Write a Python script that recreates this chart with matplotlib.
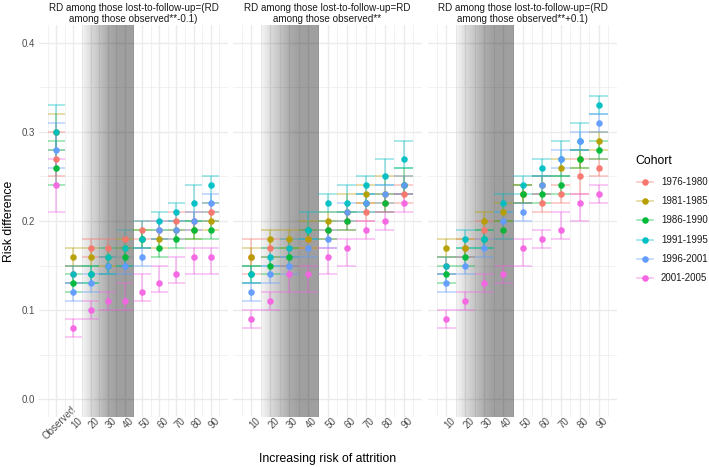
import numpy as np
import matplotlib
matplotlib.use("Agg")
import matplotlib.pyplot as plt
from matplotlib.lines import Line2D

plt.rcParams['font.family'] = ['Liberation Sans', 'DejaVu Sans']

cohorts = ["1976-1980", "1981-1985", "1986-1990", "1991-1995", "1996-2001", "2001-2005"]
colors = ["#F8766D", "#B79F00", "#00BA38", "#00BFC4", "#619CFF", "#F564E3"]

titles = ["RD among those lost-to-follow-up=(RD\namong those observed**-0.1)",
          "RD among those lost-to-follow-up=RD\namong those observed**",
          "RD among those lost-to-follow-up=(RD\namong those observed**+0.1)"]

# panel 1 has the observed estimate at position 0
x_p1 = [0, 10, 20, 30, 40, 50, 60, 70, 80, 90]
labels_p1 = ["Observed", "10", "20", "30", "40", "50", "60", "70", "80", "90"]
x_p23 = [10, 20, 30, 40, 50, 60, 70, 80, 90]
labels_p23 = ["10", "20", "30", "40", "50", "60", "70", "80", "90"]

# rows: cohorts, columns: x positions
est_p1 = [[0.27, 0.14, 0.17, 0.17, 0.18, 0.19, 0.19, 0.20, 0.20, 0.21],
          [0.30, 0.16, 0.16, 0.16, 0.17, 0.18, 0.18, 0.19, 0.19, 0.20],
          [0.26, 0.13, 0.14, 0.15, 0.16, 0.18, 0.17, 0.18, 0.19, 0.19],
          [0.30, 0.14, 0.14, 0.16, 0.17, 0.18, 0.20, 0.21, 0.22, 0.24],
          [0.28, 0.12, 0.13, 0.15, 0.15, 0.16, 0.19, 0.19, 0.20, 0.22],
          [0.24, 0.08, 0.10, 0.11, 0.11, 0.12, 0.13, 0.14, 0.16, 0.16]]
lo_p1 = [[0.25, 0.13, 0.16, 0.16, 0.17, 0.18, 0.18, 0.19, 0.19, 0.20],
         [0.28, 0.15, 0.15, 0.15, 0.16, 0.17, 0.17, 0.18, 0.18, 0.19],
         [0.24, 0.12, 0.13, 0.14, 0.15, 0.17, 0.16, 0.17, 0.18, 0.18],
         [0.28, 0.13, 0.13, 0.14, 0.15, 0.17, 0.19, 0.20, 0.20, 0.22],
         [0.26, 0.11, 0.12, 0.14, 0.14, 0.15, 0.18, 0.18, 0.19, 0.21],
         [0.21, 0.07, 0.09, 0.10, 0.10, 0.11, 0.12, 0.13, 0.14, 0.14]]
hi_p1 = [[0.30, 0.15, 0.18, 0.18, 0.19, 0.20, 0.20, 0.21, 0.21, 0.22],
         [0.32, 0.17, 0.17, 0.17, 0.18, 0.19, 0.19, 0.20, 0.20, 0.21],
         [0.29, 0.14, 0.15, 0.16, 0.17, 0.19, 0.18, 0.19, 0.20, 0.20],
         [0.33, 0.15, 0.15, 0.17, 0.19, 0.20, 0.21, 0.22, 0.24, 0.25],
         [0.31, 0.13, 0.14, 0.16, 0.16, 0.17, 0.20, 0.20, 0.21, 0.23],
         [0.27, 0.09, 0.11, 0.12, 0.13, 0.14, 0.15, 0.16, 0.17, 0.17]]

est_p2 = [[0.16, 0.17, 0.17, 0.18, 0.19, 0.20, 0.21, 0.22, 0.23],
          [0.16, 0.18, 0.18, 0.18, 0.20, 0.21, 0.23, 0.23, 0.24],
          [0.14, 0.15, 0.16, 0.19, 0.19, 0.20, 0.22, 0.22, 0.24],
          [0.14, 0.16, 0.17, 0.19, 0.22, 0.22, 0.24, 0.25, 0.27],
          [0.12, 0.14, 0.15, 0.17, 0.18, 0.21, 0.22, 0.23, 0.24],
          [0.09, 0.11, 0.14, 0.14, 0.16, 0.17, 0.19, 0.20, 0.22]]
lo_p2 = [[0.14, 0.16, 0.16, 0.17, 0.18, 0.19, 0.20, 0.21, 0.22],
         [0.15, 0.17, 0.17, 0.17, 0.19, 0.20, 0.22, 0.22, 0.23],
         [0.13, 0.14, 0.15, 0.18, 0.18, 0.19, 0.21, 0.21, 0.23],
         [0.13, 0.15, 0.16, 0.18, 0.21, 0.21, 0.23, 0.24, 0.26],
         [0.11, 0.13, 0.14, 0.16, 0.17, 0.20, 0.21, 0.22, 0.23],
         [0.08, 0.10, 0.12, 0.12, 0.14, 0.15, 0.18, 0.19, 0.21]]
hi_p2 = [[0.18, 0.18, 0.18, 0.19, 0.20, 0.21, 0.22, 0.23, 0.24],
         [0.17, 0.19, 0.19, 0.20, 0.21, 0.23, 0.24, 0.25, 0.25],
         [0.15, 0.16, 0.17, 0.19, 0.20, 0.21, 0.23, 0.23, 0.26],
         [0.15, 0.17, 0.18, 0.21, 0.23, 0.24, 0.25, 0.27, 0.29],
         [0.13, 0.15, 0.16, 0.18, 0.19, 0.22, 0.23, 0.24, 0.25],
         [0.10, 0.12, 0.15, 0.15, 0.17, 0.18, 0.20, 0.21, 0.23]]

est_p3 = [[0.15, 0.17, 0.19, 0.19, 0.23, 0.22, 0.23, 0.25, 0.26],
          [0.17, 0.17, 0.20, 0.21, 0.23, 0.24, 0.26, 0.27, 0.29],
          [0.14, 0.16, 0.18, 0.19, 0.23, 0.23, 0.24, 0.27, 0.28],
          [0.15, 0.18, 0.18, 0.22, 0.24, 0.26, 0.27, 0.29, 0.33],
          [0.13, 0.15, 0.17, 0.20, 0.21, 0.24, 0.27, 0.29, 0.31],
          [0.09, 0.11, 0.13, 0.14, 0.17, 0.18, 0.19, 0.22, 0.23]]
lo_p3 = [[0.14, 0.16, 0.18, 0.18, 0.22, 0.21, 0.22, 0.23, 0.25],
         [0.16, 0.16, 0.19, 0.20, 0.22, 0.23, 0.25, 0.26, 0.28],
         [0.13, 0.15, 0.17, 0.18, 0.22, 0.22, 0.23, 0.26, 0.27],
         [0.14, 0.17, 0.17, 0.21, 0.23, 0.25, 0.25, 0.28, 0.32],
         [0.12, 0.14, 0.16, 0.18, 0.20, 0.23, 0.26, 0.28, 0.30],
         [0.08, 0.10, 0.12, 0.13, 0.15, 0.17, 0.18, 0.20, 0.22]]
hi_p3 = [[0.16, 0.18, 0.20, 0.20, 0.24, 0.23, 0.24, 0.27, 0.27],
         [0.18, 0.18, 0.21, 0.22, 0.24, 0.25, 0.27, 0.28, 0.30],
         [0.15, 0.17, 0.19, 0.20, 0.24, 0.25, 0.25, 0.28, 0.29],
         [0.16, 0.19, 0.19, 0.23, 0.25, 0.27, 0.29, 0.31, 0.34],
         [0.14, 0.16, 0.18, 0.21, 0.22, 0.25, 0.28, 0.30, 0.32],
         [0.10, 0.12, 0.14, 0.15, 0.18, 0.19, 0.21, 0.23, 0.24]]

W, H = 709, 467
fig = plt.figure(figsize=(W / 100, H / 100), dpi=100)

def fx(px):
    return px / W

def fy(py):
    return 1 - py / H

ylim = (-0.02, 0.42)
panel_top, panel_bot = 25, 417
lefts = [39, 233, 428]
pw = 189

# grey shading that darkens towards 40 (shaded x range 15..45)
gx = np.linspace(15, 45, 300)
alpha_ramp = np.interp(gx, [15, 20, 25, 30, 35, 45], [0.04, 0.14, 0.24, 0.33, 0.38, 0.38])
shade = np.zeros((1, gx.size, 4))
shade[0, :, 3] = alpha_ramp


def draw_panel(ax, x, est, lo, hi, xlim, labels, title, show_y):
    ax.imshow(shade, extent=[15, 45, ylim[0], ylim[1]], aspect='auto',
              interpolation='bilinear', zorder=0.6)
    xs = np.array(x)
    for k in range(len(cohorts)):
        ax.vlines(xs, lo[k], hi[k], color=colors[k], lw=1.1, alpha=0.45, zorder=2)
        ax.hlines(lo[k], xs - 5, xs + 5, color=colors[k], lw=1.1, alpha=0.45, zorder=2)
        ax.hlines(hi[k], xs - 5, xs + 5, color=colors[k], lw=1.1, alpha=0.45, zorder=2)
    for k in range(len(cohorts)):
        ax.plot(xs, est[k], 'o', color=colors[k], ms=4.7, mew=0, alpha=0.95, zorder=3)

    ax.set_xlim(*xlim)
    ax.set_ylim(*ylim)
    ax.set_xticks(x)
    ax.set_xticklabels(labels, rotation=45, ha='center', va='top', rotation_mode='anchor')
    ax.set_xticks(np.arange(x[0] - 5, 100, 10), minor=True)
    ax.set_yticks([0.0, 0.1, 0.2, 0.3, 0.4])
    ax.set_yticks([0.05, 0.15, 0.25, 0.35], minor=True)
    if show_y:
        ax.set_yticklabels(["0.0", "0.1", "0.2", "0.3", "0.4"])
    else:
        ax.set_yticklabels([])
    ax.tick_params(which='both', length=0, labelsize=7, labelcolor='#4D4D4D')
    ax.tick_params(axis='x', pad=2)
    ax.tick_params(axis='y', pad=3)
    ax.grid(which='major', color='#EBEBEB', lw=1.0)
    ax.grid(which='minor', color='#EBEBEB', lw=0.5)
    ax.set_axisbelow(True)
    for s in ax.spines.values():
        s.set_visible(False)
    ax.set_title(title, fontsize=7.1, color='#1A1A1A', pad=2.5, linespacing=1.1)


panels = [(x_p1, est_p1, lo_p1, hi_p1, (-10, 100), labels_p1),
          (x_p23, est_p2, lo_p2, hi_p2, (0.5, 99.5), labels_p23),
          (x_p23, est_p3, lo_p3, hi_p3, (0.5, 99.5), labels_p23)]

for i, (x, est, lo, hi, xl, labs) in enumerate(panels):
    ax = fig.add_axes([fx(lefts[i]), fy(panel_bot), fx(pw), (panel_bot - panel_top) / H])
    draw_panel(ax, x, est, lo, hi, xl, labs, titles[i], i == 0)

fig.text(fx(328), fy(459), "Increasing risk of attrition", fontsize=8.8,
         color='black', ha='center', va='center')
fig.text(fx(9), fy(221), "Risk difference", fontsize=8.8, color='black',
         rotation=90, ha='center', va='center')

# legend
fig.text(fx(635), fy(161), "Cohort", fontsize=8.8, color='black', ha='left', va='center')
for i, (c, lab) in enumerate(zip(cohorts, colors)):
    yy = fy(181.7 + i * 19.3)
    fig.add_artist(Line2D([fx(637), fx(653)], [yy, yy], color=lab, lw=1.1, alpha=0.45,
                          transform=fig.transFigure))
    fig.add_artist(Line2D([fx(645)], [yy], color=lab, marker='o', ms=4.7, mew=0,
                          transform=fig.transFigure))
    fig.text(fx(661), yy, c, fontsize=7, color='#1A1A1A', ha='left', va='center')

fig.savefig("out.png", dpi=100)
